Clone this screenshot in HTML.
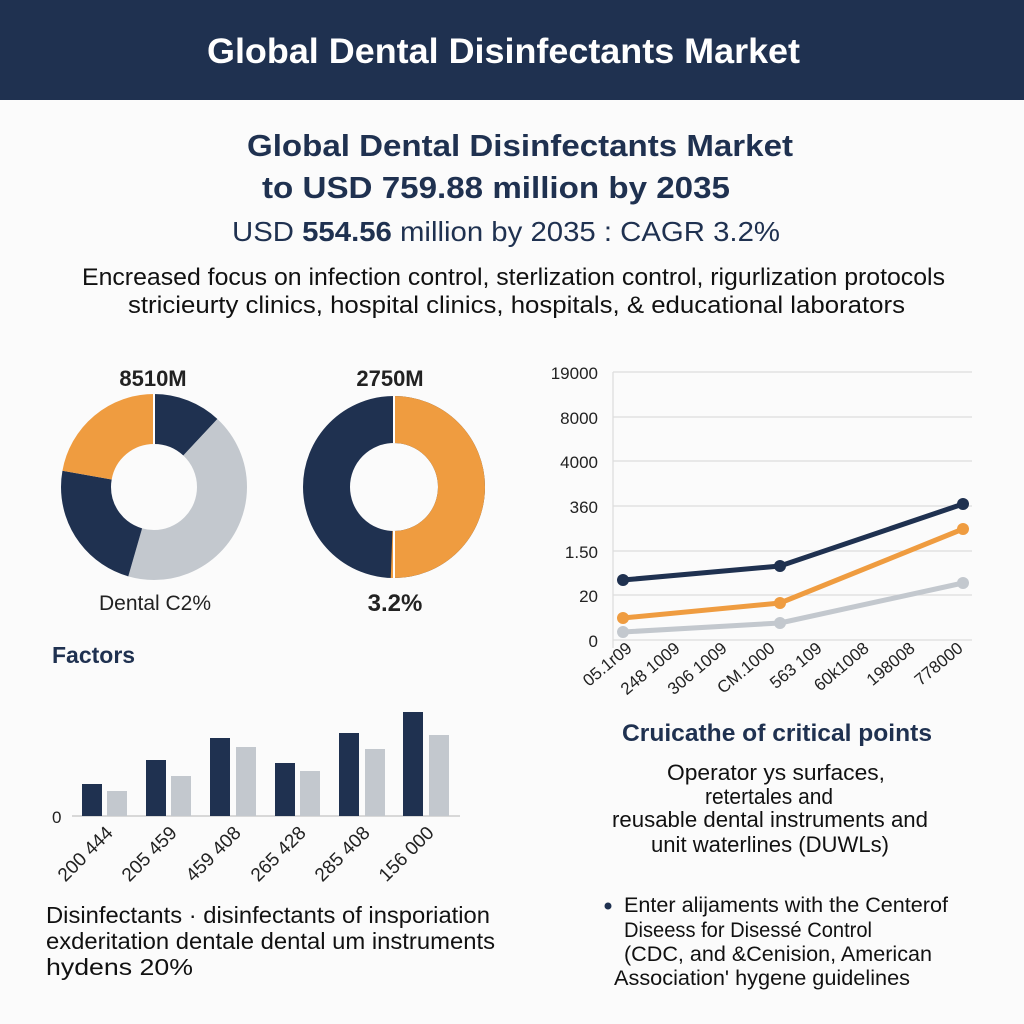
<!DOCTYPE html>
<html><head><meta charset="utf-8"><style>
body{margin:0;width:1024px;height:1024px;background:#fbfbfb;font-family:"Liberation Sans",sans-serif;overflow:hidden}
svg{display:block}
</style></head><body>
<svg width="1024" height="1024" viewBox="0 0 1024 1024" font-family="Liberation Sans, sans-serif">
<rect width="1024" height="1024" fill="#fbfbfb"/>
<rect width="1024" height="100" fill="#1f3150"/>
<text x="207" y="63" font-size="35" font-weight="bold" fill="#fff" textLength="593" lengthAdjust="spacingAndGlyphs">Global Dental Disinfectants Market</text>
<g fill="#1f3150">
<text x="247" y="156" font-size="31" font-weight="bold" textLength="546" lengthAdjust="spacingAndGlyphs">Global Dental Disinfectants Market</text>
<text x="262" y="198" font-size="31" font-weight="bold" textLength="468" lengthAdjust="spacingAndGlyphs">to USD 759.88 million by 2035</text>
<text x="232" y="241" font-size="28" textLength="548" lengthAdjust="spacingAndGlyphs">USD <tspan font-weight="bold">554.56</tspan> million by 2035 : CAGR 3.2%</text>
</g>
<g fill="#111" font-size="24">
<text x="82" y="285" textLength="863" lengthAdjust="spacingAndGlyphs">Encreased focus on infection control, sterlization control, rigurlization protocols</text>
<text x="128" y="313" textLength="777" lengthAdjust="spacingAndGlyphs">stricieurty clinics, hospital clinics, hospitals, &amp; educational laborators</text>
</g>
<!-- donuts -->
<text x="153" y="386" text-anchor="middle" font-size="22" font-weight="bold" fill="#222">8510M</text>
<text x="390" y="386" text-anchor="middle" font-size="22" font-weight="bold" fill="#222">2750M</text>
<g transform="translate(154,487) rotate(-90)" fill="none" stroke-width="50">
<circle r="68" stroke="#1f3150" stroke-dasharray="51 376.3"/>
<circle r="68" stroke="#c3c8ce" stroke-dasharray="0 51 181.6 194.7"/>
<circle r="68" stroke="#1f3150" stroke-dasharray="0 232.6 99.7 95"/>
<circle r="68" stroke="#ef9c40" stroke-dasharray="0 332.3 95 0"/>
</g>
<g transform="translate(394,487) rotate(-90)" fill="none" stroke-width="47">
<circle r="67.5" stroke="#1f3150"/>
<circle r="67.5" stroke="#ef9c40" stroke-dasharray="214.4 209.7"/>
</g>
<g stroke="#fff" stroke-width="2"><line x1="154" y1="394" x2="154" y2="444"/><line x1="394" y1="396" x2="394" y2="443"/><line x1="394" y1="531" x2="394" y2="578"/></g>
<text x="155" y="610" text-anchor="middle" font-size="21" fill="#222">Dental C2%</text>
<text x="395" y="611" text-anchor="middle" font-size="24" font-weight="bold" fill="#222">3.2%</text>
<text x="52" y="663" font-size="23" font-weight="bold" fill="#1f3150">Factors</text>
<!-- bars -->
<line x1="72" y1="816" x2="460" y2="816" stroke="#ccc" stroke-width="1.5"/>
<text x="52" y="823" font-size="17" fill="#222">0</text>
<g fill="#1f3150">
<rect x="82" y="784" width="20" height="32"/><rect x="146" y="760" width="20" height="56"/><rect x="210" y="738" width="20" height="78"/><rect x="275" y="763" width="20" height="53"/><rect x="339" y="733" width="20" height="83"/><rect x="403" y="712" width="20" height="104"/>
</g>
<g fill="#c3c8ce">
<rect x="107" y="791" width="20" height="25"/><rect x="171" y="776" width="20" height="40"/><rect x="236" y="747" width="20" height="69"/><rect x="300" y="771" width="20" height="45"/><rect x="365" y="749" width="20" height="67"/><rect x="429" y="735" width="20" height="81"/>
</g>
<g font-size="19" fill="#222" text-anchor="end">
<text transform="translate(114,834) rotate(-45)">200 444</text>
<text transform="translate(178,834) rotate(-45)">205 459</text>
<text transform="translate(242,834) rotate(-45)">459 408</text>
<text transform="translate(307,834) rotate(-45)">265 428</text>
<text transform="translate(371,834) rotate(-45)">285 408</text>
<text transform="translate(435,834) rotate(-45)">156 000</text>
</g>
<g font-size="23" fill="#111">
<text x="46" y="923" textLength="444" lengthAdjust="spacingAndGlyphs">Disinfectants · disinfectants of insporiation</text>
<text x="46" y="949" textLength="449" lengthAdjust="spacingAndGlyphs">exderitation dentale dental um instruments</text>
<text x="46" y="975" textLength="147" lengthAdjust="spacingAndGlyphs">hydens 20%</text>
</g>
<!-- line chart -->
<g stroke="#ddd" stroke-width="1.3">
<line x1="613" y1="372" x2="972" y2="372"/><line x1="613" y1="417" x2="972" y2="417"/><line x1="613" y1="461" x2="972" y2="461"/><line x1="613" y1="506" x2="972" y2="506"/><line x1="613" y1="551" x2="972" y2="551"/><line x1="613" y1="595" x2="972" y2="595"/><line x1="613" y1="640" x2="972" y2="640"/><line x1="613" y1="372" x2="613" y2="648"/>
</g>
<g font-size="17" fill="#222" text-anchor="end">
<text x="598" y="379">19000</text><text x="598" y="424">8000</text><text x="598" y="468">4000</text><text x="598" y="513">360</text><text x="598" y="558">1.50</text><text x="598" y="602">20</text><text x="598" y="647">0</text>
</g>
<g fill="none" stroke-width="5" stroke-linejoin="round">
<polyline points="623,632 780,623 963,583" stroke="#c3c8ce"/>
<polyline points="623,618 780,603 963,529" stroke="#ef9c40"/>
<polyline points="623,580 780,566 963,504" stroke="#1f3150"/>
</g>
<g fill="#c3c8ce"><circle cx="623" cy="632" r="6"/><circle cx="780" cy="623" r="6"/><circle cx="963" cy="583" r="6"/></g>
<g fill="#ef9c40"><circle cx="623" cy="618" r="6"/><circle cx="780" cy="603" r="6"/><circle cx="963" cy="529" r="6"/></g>
<g fill="#1f3150"><circle cx="623" cy="580" r="6"/><circle cx="780" cy="566" r="6"/><circle cx="963" cy="504" r="6"/></g>
<g font-size="17" fill="#222" text-anchor="end">
<text transform="translate(633,650) rotate(-40)">05.1r09</text>
<text transform="translate(681,650) rotate(-40)">248 1009</text>
<text transform="translate(728,650) rotate(-40)">306 1009</text>
<text transform="translate(776,650) rotate(-40)">CM.1000</text>
<text transform="translate(823,650) rotate(-40)">563 109</text>
<text transform="translate(870,650) rotate(-40)">60k1008</text>
<text transform="translate(916,650) rotate(-40)">198008</text>
<text transform="translate(964,650) rotate(-40)">778000</text>
</g>
<text x="622" y="741" font-size="24" font-weight="bold" fill="#1f3150" textLength="310" lengthAdjust="spacingAndGlyphs">Cruicathe of critical points</text>
<g font-size="22" fill="#111">
<text x="667" y="780" textLength="218" lengthAdjust="spacingAndGlyphs">Operator ys surfaces,</text>
<text x="705" y="804" textLength="128" lengthAdjust="spacingAndGlyphs">retertales and</text>
<text x="612" y="827" textLength="316" lengthAdjust="spacingAndGlyphs">reusable dental instruments and</text>
<text x="651" y="852" textLength="238" lengthAdjust="spacingAndGlyphs">unit waterlines (DUWLs)</text>
</g>
<circle cx="608" cy="906" r="3.5" fill="#1f3150"/>
<g font-size="21" fill="#111">
<text x="624" y="912" textLength="324" lengthAdjust="spacingAndGlyphs">Enter alijaments with the Centerof</text>
<text x="624" y="937" textLength="248" lengthAdjust="spacingAndGlyphs">Diseess for Disessé Control</text>
<text x="624" y="961" textLength="308" lengthAdjust="spacingAndGlyphs">(CDC, and &amp;Cenision, American</text>
<text x="614" y="985" textLength="296" lengthAdjust="spacingAndGlyphs">Association' hygene guidelines</text>
</g>
</svg>
</body></html>
